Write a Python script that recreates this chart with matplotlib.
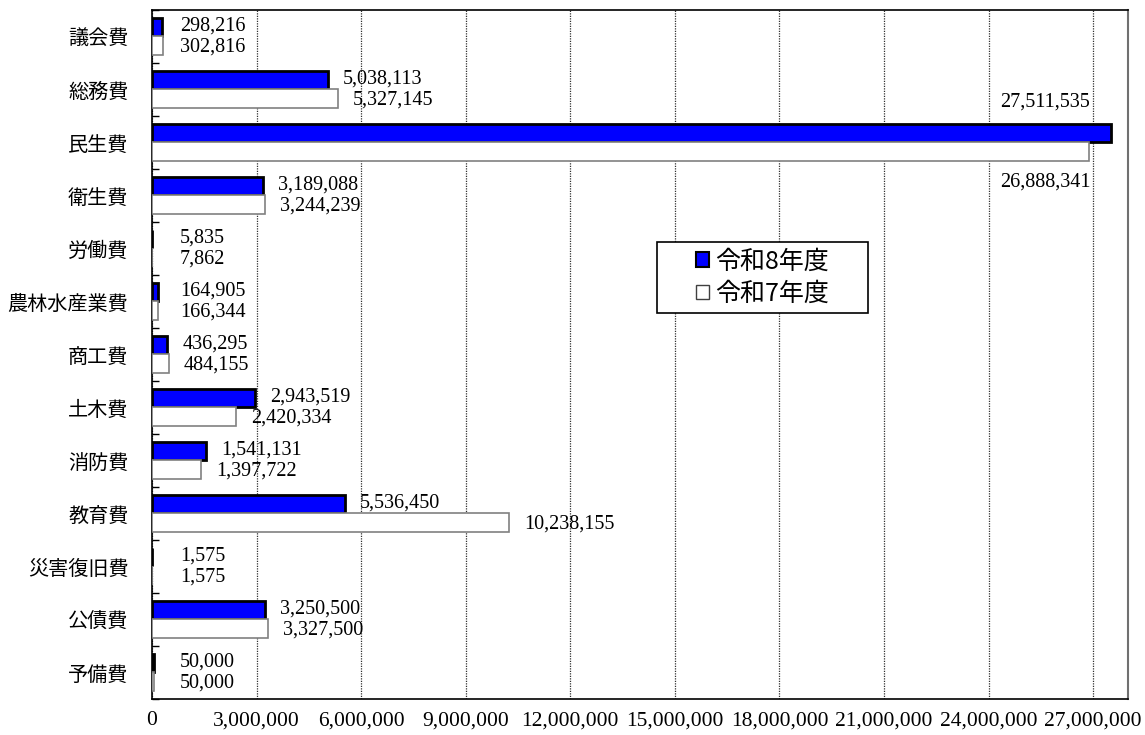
import matplotlib.pyplot as plt
import matplotlib.patches as patches
from matplotlib.ticker import FuncFormatter, MultipleLocator
import numpy as np

# 歳出（目的別）
categories = ['議会費', '総務費', '民生費', '衛生費', '労働費', '農林水産業費', '商工費',
              '土木費', '消防費', '教育費', '災害復旧費', '公債費', '予備費']
r8 = [298216, 5038113, 27511535, 3189088, 5835, 164905, 436295,
      2943519, 1541131, 5536450, 1575, 3250500, 50000]
r7 = [302816, 5327145, 26888341, 3244239, 7862, 166344, 484155,
      2420334, 1397722, 10238155, 1575, 3327500, 50000]
series_names = ['令和8年度', '令和7年度']

jp_font = ['Noto Sans CJK JP', 'DejaVu Sans']
num_font = 'Liberation Serif'

fig = plt.figure(figsize=(11.45, 7.35), dpi=100)
ax = fig.add_axes([0.1328, 0.049, 0.8524, 0.9374])

y = np.arange(len(categories))
h = 0.35
ax.barh(y - h / 2, r8, height=h, color='#0000FF', edgecolor='black', linewidth=2, zorder=3)
ax.barh(y + h / 2, r7, height=h, color='white', edgecolor='#808080', linewidth=1.2, zorder=3)

ax.set_xlim(0, 28000000)
ax.set_ylim(len(categories) - 0.5, -0.5)

# 目盛と補助線
ax.xaxis.set_major_locator(MultipleLocator(3000000))
ax.xaxis.set_major_formatter(FuncFormatter(lambda v, p: f'{int(v):,}'))
ax.grid(axis='x', color='#303030', linestyle=(0, (1, 1)), linewidth=0.9, zorder=1)
ax.tick_params(axis='x', length=0, pad=9)
for lab in ax.get_xticklabels():
    lab.set_fontfamily(num_font)
    lab.set_fontsize(15.5)

ax.set_yticks(y)
ax.set_yticklabels(categories, fontfamily=jp_font, fontsize=14.5)
ax.set_yticks(np.arange(len(categories) + 1) - 0.5, minor=True)
ax.tick_params(axis='y', which='major', length=0, pad=17)
ax.tick_params(axis='y', which='minor', direction='in', length=5, width=1)

for side in ['top', 'bottom', 'left']:
    ax.spines[side].set_color('black')
    ax.spines[side].set_linewidth(1.2)
ax.spines['right'].set_color('#707070')
ax.spines['right'].set_linewidth(1.5)

# データラベル
px = 28000000 / 976
largest = int(np.argmax(r8))
for i, (a, b) in enumerate(zip(r8, r7)):
    if i == largest:
        xr = min(a, b) + 1 * px
        ax.text(xr, i - 0.76, f'{a:,}', ha='right', va='center',
                fontfamily=num_font, fontsize=14.5)
        ax.text(xr, i + 0.75, f'{b:,}', ha='right', va='center',
                fontfamily=num_font, fontsize=14.5)
        continue
    ax.text(max(a + 15 * px, 28 * px), i - 0.2, f'{a:,}', ha='left', va='center',
            fontfamily=num_font, fontsize=14.5)
    ax.text(max(b + 15 * px, 28 * px), i + 0.2, f'{b:,}', ha='left', va='center',
            fontfamily=num_font, fontsize=14.5)

# 凡例
handles = [patches.Patch(facecolor='#0000FF', edgecolor='black', linewidth=1.5),
           patches.Patch(facecolor='white', edgecolor='#404040', linewidth=1)]
leg = ax.legend(handles, series_names, loc='center', bbox_to_anchor=(0.6255, 0.6118),
                frameon=False, prop={'family': jp_font, 'size': 18},
                handlelength=0.5, handleheight=0.5, handletextpad=0.25,
                labelspacing=0.25, borderpad=0)
leg.set_zorder(6)
ax.add_patch(patches.Rectangle((0.5174, 0.5602), 0.2162, 0.1030, transform=ax.transAxes,
                               facecolor='white', edgecolor='black', linewidth=1.2, zorder=5))

fig.savefig('out.png', dpi=100)
